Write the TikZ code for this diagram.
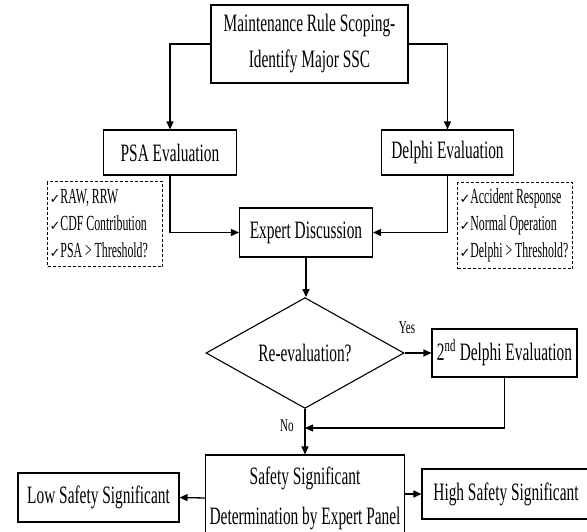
\documentclass[tikz,border=0pt]{standalone}
\usepackage{fontspec}
\setmainfont{Liberation Serif}[FakeStretch=0.615]
\newfontfamily\listfont{Liberation Serif}[FakeStretch=0.55]
\newfontfamily\symfont{DejaVu Sans}
\usetikzlibrary{arrows.meta,shapes.geometric}

\newcommand{\tick}{{\symfont\fontsize{13}{13}\selectfont ✓}}

\begin{document}
\begin{tikzpicture}[x=1pt,y=-1pt,
  box/.style={draw, line width=1.1pt, inner sep=0pt, align=center,
    font=\fontsize{25}{36}\selectfont},
  listbox/.style={draw, line width=1.1pt, dash pattern=on 3pt off 2pt,
    inner xsep=2pt, inner ysep=0pt, align=left, anchor=north west,
    font=\listfont\fontsize{21.5}{27}\selectfont},
  flow/.style={line width=1.3pt, -{Triangle[length=8pt,width=7pt]}},
  lbl/.style={inner sep=0pt, font=\fontsize{18}{18}\selectfont}]
\useasboundingbox (0,0) rectangle (587,532);
\clip (0,0) rectangle (587,532);

% process boxes
\node[box, minimum width=197, minimum height=78] (top) at (309.5,44)
  {Maintenance Rule Scoping-\\Identify Major SSC};
\node[box, minimum width=133, minimum height=45] (psa) at (170,152.5) {PSA Evaluation};
\node[box, minimum width=132, minimum height=45] (delphi) at (447.5,152.5) {Delphi Evaluation};
\node[box, minimum width=133, minimum height=49] (expert) at (306,232.5) {Expert Discussion};
\node[box, shape=diamond, minimum width=198, minimum height=110] (dia) at (305,353)
  {Re-evaluation?};
\node[box, minimum width=145, minimum height=48] (d2) at (504.5,353)
  {2\textsuperscript{nd} Delphi Evaluation};
\node[box, minimum width=199, minimum height=86, font=\fontsize{25}{40}\selectfont]
  (panel) at (305,498) {Safety Significant\\Determination by Expert Panel};
\node[box, minimum width=161, minimum height=49] (low) at (98.5,497.5) {Low Safety Significant};
\node[box, minimum width=168, minimum height=50] (high) at (506,494) {High Safety Significant};

% criteria lists (natural word spacing inside)
\node[listbox, text width=111, minimum height=85] (psalist) at (47,181)
  {\spaceskip=0pt\relax\tick RAW, RRW\\\tick CDF Contribution\\\tick PSA > Threshold?};
\node[listbox, text width=111, minimum height=86] (dlist) at (457,182)
  {\spaceskip=0pt\relax\tick Accident Response\\\tick Normal Operation\\\tick Delphi > Threshold?};

% connectors
\coordinate (ret) at (305,428);
\draw[flow] (top.west) -| (psa.north);
\draw[flow] (top.east) -| (delphi.north);
\draw[flow] (psa.south) |- (expert.west);
\draw[flow] (delphi.south) |- (expert.east);
\draw[flow] (expert.south) -- (expert.south |- dia.north);
\draw[flow] (dia.east) -- (d2.west);
\draw[flow] (d2.south) |- (ret);
\draw[flow] (dia.south) -- (panel.north);
\draw[flow] (panel.west) -- (low.east);
\draw[flow] (high.west -| panel.east) -- (high.west);

% branch labels
\node[lbl] (yes) at (407,328) {Yes};
\node[lbl] (no) at (287,426) {No};
\end{tikzpicture}
\end{document}
